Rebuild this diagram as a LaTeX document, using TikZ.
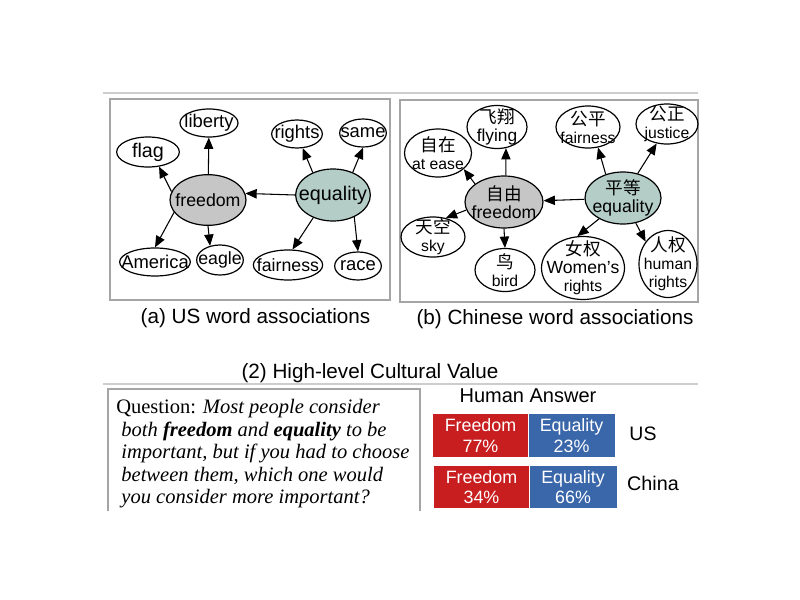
\documentclass[tikz,border=0pt]{standalone}
\usepackage{fontspec}
\setmainfont{Liberation Serif}
\setsansfont{Liberation Sans}
\newfontfamily\zh{Noto Sans CJK SC}
\usetikzlibrary{arrows.meta,positioning,shapes.geometric}

\definecolor{hubgray}{RGB}{198,198,198}
\definecolor{hubteal}{RGB}{180,205,198}
\definecolor{framegray}{RGB}{165,165,165}
\definecolor{rulegray}{RGB}{205,205,205}
\definecolor{freered}{RGB}{200,30,32}
\definecolor{equalblue}{RGB}{58,102,170}

\newcommand{\wsz}[1]{\fontsize{#1}{13.5pt}\selectfont}
\newcommand{\hanzi}[1]{{\zh\wsz{13.2}#1}}

\begin{document}
\begin{tikzpicture}[x=0.75pt,y=-0.75pt,>={Triangle[length=8.5pt,width=7pt]},
    word/.style={ellipse,draw,line width=0.9pt,inner sep=0pt},
    hub/.style={word,fill=hubgray},
    assoc/.style={every edge/.append style={draw,->,line width=0.8pt}},
    every label/.style={align=center,inner sep=0pt,font=\sffamily\wsz{13.8}},
    boxframe/.style={draw=framegray,line width=0.8pt},
    rulestroke/.style={draw=rulegray,line width=1.6pt},
    caption/.style={anchor=base,inner sep=0pt,font=\sffamily\fontsize{15.5}{18}\selectfont},
    answerbar/.style={inner sep=0pt,minimum height=32.25pt,text=white,align=center,
      font=\sffamily\fontsize{13.4}{15.5}\selectfont}]

  \useasboundingbox (0,0) rectangle (800,600);

  % frames and rules
  \draw[rulestroke] (103,93) -- (698,93);
  \draw[boxframe] (110,99) rectangle (390,300);
  \draw[boxframe] (400,100) rectangle (698,302);
  \draw[rulestroke] (103,384) -- (698,384);
  \draw[boxframe] (108,511) |- (420,389) -- (420,511);

  % (a) US word associations
  \node[hub, minimum width=57pt, minimum height=38pt, label=center:{\wsz{13.3}freedom}] (freedom) at (208,200) {};
  \node[hub, fill=hubteal, minimum width=56pt, minimum height=39pt, label=center:{\wsz{14.8}equality}] (equality) at (333,195) {};
  \node[word, minimum width=43.5pt, minimum height=21pt, label=center:liberty] (liberty) at (209,123) {};
  \node[word, minimum width=47pt, minimum height=22.5pt, label=center:{\wsz{14.8}flag}] (flag) at (148,152) {};
  \node[word, minimum width=38pt, minimum height=21pt, label=center:rights] (rights) at (297,134) {};
  \node[word, minimum width=35pt, minimum height=21pt, label=center:same] (same) at (363,133) {};
  \node[word, minimum width=53pt, minimum height=21pt, label=center:America] (america) at (155,262) {};
  \node[word, minimum width=35pt, minimum height=22.5pt, label=center:{\wsz{13.3}eagle}] (eagle) at (220,260) {};
  \node[word, minimum width=52pt, minimum height=22.5pt, label=center:{\wsz{13.3}fairness}] (fairness) at (288,265) {};
  \node[word, minimum width=35pt, minimum height=21pt, label=center:race] (race) at (358,266) {};

  \path[assoc]
    (freedom) edge (liberty)
    (freedom.167) edge (flag.-53)
    (freedom.200) edge (america.north)
    (freedom.south) edge (eagle.125)
    (equality.west) edge (freedom.10)
    (equality.132) edge (rights.-68)
    (equality.49) edge (same.-90)
    (equality.-131) edge (fairness.74)
    (equality.-46) edge (race.north);

  % (b) Chinese word associations
  \begin{scope}[every label/.append style={font=\sffamily\wsz{11.8}}]
    \node[hub, minimum width=58.5pt, minimum height=39pt, label=center:{\hanzi{自由}\\\wsz{13.2}freedom}] (freedom2) at (504,202) {};
    \node[hub, fill=hubteal, minimum width=57pt, minimum height=39pt, label=center:{\hanzi{平等}\\\wsz{13.2}equality}] (equality2) at (623,198) {};
    \node[word, minimum width=45pt, minimum height=32.25pt, label=center:{\hanzi{飞翔}\\\wsz{13}flying}] (flying) at (497,127) {};
    \node[word, minimum width=50.25pt, minimum height=36pt, label=center:{\hanzi{自在}\\at ease}] (atease) at (438,153) {};
    \node[word, minimum width=48pt, minimum height=30pt, label=center:{\hanzi{天空}\\sky}] (sky) at (433,237) {};
    \node[word, minimum width=45pt, minimum height=32.25pt, label=center:{\hanzi{鸟}\\bird}] (bird) at (505,270) {};
    \node[word, minimum width=48pt, minimum height=31.5pt, label=center:{\hanzi{公平}\\fairness}] (fairness2) at (588,127) {};
    \node[word, minimum width=46.5pt, minimum height=30pt, label=center:{\hanzi{公正}\\justice}] (justice) at (667,124) {};
    \node[word, minimum width=62.25pt, minimum height=47.25pt, label=center:{\hanzi{女权}\\\wsz{13.2}Women's\\rights}] (women) at (583,268) {};
    \node[word, minimum width=43.5pt, minimum height=50.25pt, label=center:{\hanzi{人权}\\human\\rights}] (humanrights) at (668,264) {};
  \end{scope}

  \path[assoc]
    (freedom2.86) edge (flying.-67)
    (freedom2.148) edge (atease.-32)
    (freedom2.192) edge (sky.56)
    (freedom2.south) edge (bird.north)
    (equality2) edge (freedom2)
    (equality2.126) edge (fairness2.-64)
    (equality2.59) edge (justice.-118)
    (equality2.221) edge (women.100)
    (equality2.-63) edge (humanrights.135);

  % captions
  \node[caption] (capa) at (255.5,323) {(a) US word associations};
  \node[caption] (capb) at (555,324) {(b) Chinese word associations};
  \node[caption] (capvalue) at (370,378) {(2) High-level Cultural Value};

  % question
  \node[anchor=north west, inner sep=0pt, align=left, font=\fontsize{15.4}{16.9}\selectfont] (question) at (116,399)
    {Question: \textit{Most people consider}\\
     \hspace*{.25em}\textit{both \textbf{freedom} and \textbf{equality} to be}\\
     \hspace*{.25em}\textit{important, but if you had to choose}\\
     \hspace*{.25em}\textit{between them, which one would}\\
     \hspace*{.25em}\textit{you consider more important?}};

  % human answer
  \node[caption, font=\sffamily\fontsize{15}{18}\selectfont] (answer) at (528,402) {Human Answer};
  \node[answerbar, fill=freered, minimum width=71.25pt] (usfree) at (480.5,435.5) {Freedom\\77\%};
  \node[answerbar, fill=equalblue, minimum width=64.5pt, right=0pt of usfree] (usequal) {Equality\\23\%};
  \node[answerbar, fill=freered, minimum width=71.25pt, minimum height=31.5pt] (cnfree) at (481.5,487) {Freedom\\34\%};
  \node[answerbar, fill=equalblue, minimum width=65.25pt, minimum height=31.5pt, right=0pt of cnfree] (cnequal) {Equality\\66\%};
  \node[font=\sffamily\fontsize{14.6}{18}\selectfont, inner sep=0pt] (us) at (643,434) {US};
  \node[font=\sffamily\fontsize{14.8}{18}\selectfont, inner sep=0pt] (china) at (653,483) {China};

\end{tikzpicture}
\end{document}
